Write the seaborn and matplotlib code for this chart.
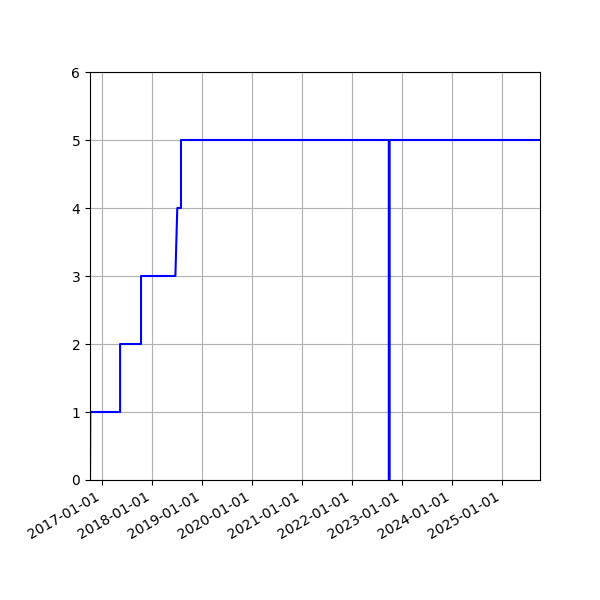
import pandas as pd
import matplotlib
matplotlib.use("Agg")
import matplotlib.pyplot as plt
import matplotlib.dates as mdates
import seaborn as sns

# vertices of the cumulative count line (date, count)
dates = ["2016-10-03", "2016-10-05", "2017-05-11", "2017-05-11",
         "2017-10-11", "2017-10-11", "2018-06-19", "2018-07-03",
         "2018-07-30", "2018-07-30", "2022-09-26", "2022-09-26",
         "2022-10-02", "2022-10-02", "2025-10-05"]
counts = [0, 1, 1, 2, 2, 3, 3, 4, 4, 5, 5, 0, 0, 5, 5]

df = pd.DataFrame({"date": pd.to_datetime(dates), "count": counts})

fig, ax = plt.subplots(figsize=(6, 6), dpi=100)
sns.lineplot(data=df, x="date", y="count", sort=False, estimator=None,
             color="blue", linewidth=1.5, ax=ax)

ax.set_xlim(df["date"].min(), df["date"].max())
ax.set_ylim(0, 6)
ax.set_yticks(range(0, 7))
ax.xaxis.set_major_locator(mdates.YearLocator())
ax.xaxis.set_major_formatter(mdates.DateFormatter("%Y-%m-%d"))
ax.set_xlabel("")
ax.set_ylabel("")
ax.grid(True)
fig.autofmt_xdate()
fig.subplots_adjust(left=0.15, bottom=0.2, right=0.9, top=0.88)
fig.savefig("out.png", dpi=100)
